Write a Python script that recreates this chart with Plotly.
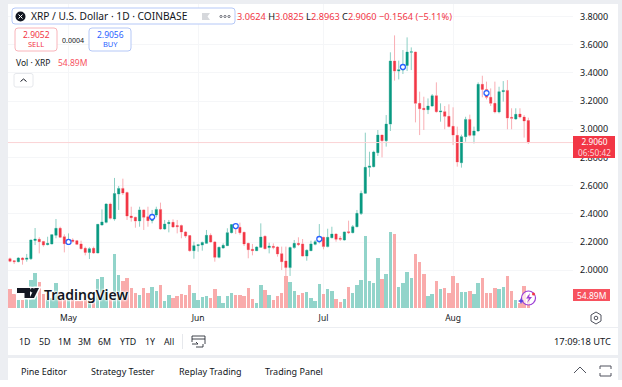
import pandas as pd
import plotly.graph_objects as go

W, H = 622, 387
START_DATE = "2025-04-17"
OPEN = [2.082,2.068,2.061,2.087,2.078,2.082,2.212,2.220,2.205,2.182,2.187,2.248,2.298,2.238,2.191,2.215,2.210,2.187,2.156,2.127,2.156,2.123,2.321,2.340,2.470,2.364,2.541,2.581,2.551,2.385,2.376,2.350,2.428,2.380,2.352,2.392,2.432,2.293,2.331,2.340,2.317,2.317,2.272,2.246,2.139,2.175,
        2.179,2.191,2.248,2.201,2.092,2.158,2.175,2.267,2.324,2.305,2.269,2.191,2.149,2.139,2.163,2.241,2.161,2.170,2.165,2.118,2.066,2.019,2.161,2.191,2.187,2.101,2.139,2.184,2.201,2.234,2.168,2.231,2.257,2.227,2.215,2.274,2.267,2.309,2.402,2.546,2.730,2.735,
        2.834,2.959,2.919,3.037,3.484,3.413,3.420,3.453,3.546,3.548,3.184,3.149,3.139,3.165,3.238,3.123,3.125,3.092,3.021,2.957,2.763,2.948,3.070,2.957,2.988,3.319,3.283,3.227,3.184,3.123,3.267,3.276,3.085,3.073,3.108,3.087,3.0624]
HIGH = [2.090,2.073,2.094,2.094,2.116,2.215,2.300,2.234,2.208,2.238,2.255,2.364,2.309,2.255,2.262,2.227,2.215,2.210,2.168,2.163,2.168,2.328,2.432,2.475,2.480,2.655,2.598,2.650,2.558,2.451,2.380,2.451,2.432,2.451,2.428,2.451,2.480,2.357,2.357,2.361,2.357,2.324,2.279,2.250,2.203,2.187,
        2.203,2.286,2.262,2.208,2.168,2.191,2.298,2.328,2.333,2.338,2.274,2.196,2.187,2.170,2.333,2.248,2.196,2.191,2.172,2.168,2.168,2.168,2.215,2.234,2.222,2.149,2.210,2.215,2.328,2.238,2.295,2.309,2.262,2.243,2.274,2.352,2.321,2.428,2.565,2.976,2.841,2.848,
        2.995,2.961,3.101,3.546,3.666,3.487,3.562,3.652,3.581,3.550,3.267,3.231,3.219,3.250,3.333,3.184,3.165,3.177,3.156,3.019,2.962,3.089,3.104,3.019,3.333,3.380,3.338,3.290,3.338,3.302,3.342,3.349,3.149,3.149,3.149,3.101,3.0825]
LOW = [2.057,2.045,2.057,2.040,2.061,2.073,2.179,2.120,2.168,2.177,2.184,2.227,2.229,2.127,2.179,2.196,2.179,2.149,2.106,2.080,2.116,2.121,2.319,2.333,2.361,2.352,2.428,2.534,2.357,2.345,2.302,2.309,2.286,2.309,2.333,2.376,2.286,2.286,2.269,2.302,2.262,2.227,2.231,2.132,2.082,2.132,
       2.139,2.189,2.196,2.061,2.085,2.153,2.172,2.262,2.257,2.253,2.172,2.085,2.106,2.139,2.161,2.149,2.120,2.149,2.097,2.002,1.955,1.960,2.153,2.172,2.097,2.068,2.137,2.177,2.191,2.149,2.163,2.227,2.203,2.208,2.210,2.257,2.262,2.305,2.392,2.541,2.664,2.730,
       2.811,2.801,2.877,2.988,3.345,3.354,3.392,3.413,3.420,3.049,2.959,2.995,3.108,3.160,3.118,3.054,3.000,3.014,2.888,2.735,2.728,2.912,2.948,2.900,2.983,3.227,3.212,3.165,3.113,3.113,3.196,3.000,3.000,3.068,3.078,2.941,2.8963]
CLOSE = [2.064,2.061,2.087,2.075,2.087,2.215,2.222,2.203,2.179,2.191,2.253,2.298,2.234,2.189,2.215,2.205,2.184,2.153,2.127,2.153,2.123,2.326,2.343,2.470,2.369,2.544,2.581,2.548,2.385,2.373,2.350,2.428,2.376,2.352,2.392,2.432,2.293,2.328,2.340,2.307,2.309,2.272,2.243,2.139,2.175,2.182,
         2.198,2.248,2.201,2.092,2.163,2.177,2.267,2.324,2.295,2.267,2.187,2.146,2.139,2.165,2.236,2.153,2.172,2.161,2.116,2.061,2.019,2.161,2.191,2.182,2.101,2.142,2.187,2.203,2.220,2.168,2.234,2.257,2.220,2.220,2.272,2.267,2.309,2.404,2.546,2.730,2.740,2.839,
         2.959,2.919,3.037,3.484,3.413,3.423,3.456,3.548,3.550,3.184,3.146,3.139,3.165,3.238,3.125,3.130,3.092,3.019,2.959,2.768,2.948,3.070,2.957,2.988,3.319,3.283,3.227,3.184,3.123,3.267,3.276,3.080,3.078,3.106,3.087,3.059,2.906]
VOLUME_M = [82,60,32,35,42,117,148,108,60,35,42,106,63,35,35,35,28,31,35,42,49,124,131,77,49,228,141,113,127,84,63,56,84,63,89,70,98,31,53,42,49,60,56,98,63,35,
            46,51,42,82,51,21,49,65,55,56,52,86,38,23,98,75,53,32,51,62,135,110,73,53,62,68,44,28,100,59,82,72,37,24,38,87,63,96,117,305,115,104,
            211,121,142,319,311,87,104,152,125,227,193,142,51,58,114,80,84,65,135,104,68,69,73,59,106,128,63,62,83,79,87,134,73,35,20,94,54.89]
EVENT_INDEX = [14, 34, 54, 74, 94, 114]
EVENT_PRICE = [2.201, 2.378, 2.314, 2.222, 3.442, 3.257]
PRICE_TICKS = [2.0, 2.2, 2.4, 2.6, 2.8, 3.0, 3.2, 3.4, 3.6, 3.8]
MONTH_DATES = ["2025-05-01", "2025-06-01", "2025-07-01", "2025-08-01"]
MONTH_LABELS = ["May", "Jun", "Jul", "Aug"]
RANGES = ["1D", "5D", "1M", "3M", "6M", "YTD", "1Y", "All"]
TABS = ["Pine Editor", "Strategy Tester", "Replay Trading", "Trading Panel"]

GREEN, RED = "#089981", "#f23645"
WICK_G, WICK_R = "#8ccfc4", "#f9aeb4"
VOL_G, VOL_R = "#92d4ca", "#f9abab"
FRAME = "#eceef2"
GRID = "#f5f6f8"
FONT = "Noto Sans"
INK = "#131722"

dates = pd.date_range(START_DATE, periods=len(CLOSE))
day = lambda n: pd.Timestamp(START_DATE) + pd.Timedelta(days=n)
PL, PR, PT, PB = 8, 573, 4, 308   # plot area in pixels

fx = lambda x: x / W
fy = lambda y: 1 - y / H

fig = go.Figure()
fig.add_bar(x=dates, y=VOLUME_M, yaxis="y2", width=0.82 * 86400000,
            marker=dict(color=[VOL_G if c >= o else VOL_R for o, c in zip(OPEN, CLOSE)], line_width=0))
fig.add_candlestick(x=dates, open=OPEN, high=HIGH, low=LOW, close=CLOSE, whiskerwidth=0,
                    increasing=dict(line=dict(color=WICK_G, width=1), fillcolor=WICK_G),
                    decreasing=dict(line=dict(color=WICK_R, width=1), fillcolor=WICK_R))
top = [max(o, c) for o, c in zip(OPEN, CLOSE)]
bot = [min(o, c) for o, c in zip(OPEN, CLOSE)]
fig.add_candlestick(x=dates, open=OPEN, high=top, low=bot, close=CLOSE, whiskerwidth=0,
                    increasing=dict(line=dict(color=GREEN, width=0), fillcolor=GREEN),
                    decreasing=dict(line=dict(color=RED, width=0), fillcolor=RED))
fig.add_scatter(x=[dates[i] for i in EVENT_INDEX], y=EVENT_PRICE, mode="markers",
                marker=dict(size=5, color="white", line=dict(color="#2962ff", width=1.3)))

shapes, ann = [], []

def rect(x0, y0, x1, y1, fill=None, line=None, lw=1):
    shapes.append(dict(type="rect", xref="paper", yref="paper", x0=fx(x0), x1=fx(x1), y0=fy(y0), y1=fy(y1),
                       fillcolor=fill or "rgba(0,0,0,0)", line=dict(color=line or "rgba(0,0,0,0)", width=lw if line else 0), layer="above"))

def rrect(x0, y0, x1, y1, r, fill=None, line=None, lw=1):
    p = (f"M{fx(x0+r)},{fy(y0)} L{fx(x1-r)},{fy(y0)} Q{fx(x1)},{fy(y0)} {fx(x1)},{fy(y0+r)} "
         f"L{fx(x1)},{fy(y1-r)} Q{fx(x1)},{fy(y1)} {fx(x1-r)},{fy(y1)} L{fx(x0+r)},{fy(y1)} "
         f"Q{fx(x0)},{fy(y1)} {fx(x0)},{fy(y1-r)} L{fx(x0)},{fy(y0+r)} Q{fx(x0)},{fy(y0)} {fx(x0+r)},{fy(y0)} Z")
    shapes.append(dict(type="path", xref="paper", yref="paper", path=p, fillcolor=fill or "rgba(0,0,0,0)",
                       line=dict(color=line or "rgba(0,0,0,0)", width=lw if line else 0), layer="above"))

def poly(points, fill=None, line=None, lw=1, close=True):
    p = "M" + " L".join(f"{fx(x)},{fy(y)}" for x, y in points) + (" Z" if close else "")
    shapes.append(dict(type="path", xref="paper", yref="paper", path=p, fillcolor=fill or "rgba(0,0,0,0)",
                       line=dict(color=line or "rgba(0,0,0,0)", width=lw if line else 0), layer="above"))

def circle(cx, cy, r, fill=None, line=None, lw=1):
    shapes.append(dict(type="circle", xref="paper", yref="paper", x0=fx(cx-r), x1=fx(cx+r), y0=fy(cy-r), y1=fy(cy+r),
                       fillcolor=fill or "rgba(0,0,0,0)", line=dict(color=line or "rgba(0,0,0,0)", width=lw if line else 0), layer="above"))

def text(x, y, s, size=9, color=INK, anchor="center", family=FONT, **font):
    ann.append(dict(xref="paper", yref="paper", x=fx(x), y=fy(y), text=s, showarrow=False, xanchor=anchor, yanchor="middle",
                    font=dict(size=size, color=color, family=family, **font), borderpad=0))

# page frame
rect(0, 0, W, 4, FRAME); rect(0, 0, 8, 380, FRAME); rect(618, 0, W, 380, FRAME)
rect(8, 355, 618, 358, FRAME); rect(8, 327, 618, 328, FRAME)

# last-price line
shapes.append(dict(type="line", xref="paper", yref="y", x0=fx(PL), x1=fx(PR), y0=CLOSE[-1], y1=CLOSE[-1],
                   line=dict(color="#fbd3d6", width=1), layer="above"))

# legend header
rrect(12, 8, 235, 24, 3, "white", "#b5c8f7", 1)
circle(20.5, 16.5, 5, "#131722")
poly([(18.5, 14.5), (22.5, 18.5)], None, "white", 1, close=False)
poly([(22.5, 14.5), (18.5, 18.5)], None, "white", 1, close=False)
text(30, 16.5, "XRP / U.S. Dollar · 1D · COINBASE", 10.2, anchor="left")
poly([(202, 13), (210, 13), (207.5, 16.5), (210, 20), (202, 20)], "#d6d8dc")
for cx in (221, 225, 229):
    circle(cx, 16.5, 1.1, None, "#50535e", 0.8)
ann.append(dict(xref="paper", yref="paper", x=fx(236), y=fy(16.5), xanchor="left", yanchor="middle", showarrow=False, borderpad=0,
                font=dict(size=9.2, family=FONT, color=RED),
                text=f"3.0624 <span style='color:{INK}'>H</span>3.0825 <span style='color:{INK}'>L</span>2.8963 "
                     f"<span style='color:{INK}'>C</span>2.9060 −0.1564 (−5.11%)"))
rrect(15, 28, 57, 51, 3, "white", "#f9b4ba", 1)
text(36, 34.5, "2.9052", 8.5, RED); text(36, 44, "SELL", 7.5, RED)
text(72.5, 40, "0.0004", 7, INK)
rrect(89, 28, 131, 51, 3, "white", "#b5c8f7", 1)
text(110, 34.5, "2.9056", 8.5, "#2962ff"); text(110, 44, "BUY", 7.5, "#2962ff")
text(15, 62.5, "Vol · XRP", 8.5, anchor="left")
text(57, 62.5, "54.89M", 8.5, "#f7525f", anchor="left")
rrect(14, 73.5, 33, 87, 2, "white", "#e6e8ec", 1)
poly([(20.5, 81.5), (23.5, 79), (26.5, 81.5)], None, INK, 1, close=False)

# price labels
rect(573, 136, 615, 158, "#f23645")
ann.append(dict(xref="paper", yref="paper", x=fx(594), y=fy(147), showarrow=False, xanchor="center", yanchor="middle", borderpad=0,
                text="2.9060<br><span style='color:#fbd5d8'>06:50:42</span>", font=dict(size=8.3, color="white", family=FONT)))
rect(573, 289, 610, 301, "#f7525f")
text(591.5, 295, "54.89M", 8.5, "white")

# TradingView mark, with its white halo
T_MARK = [(17, 288), (30, 288), (30, 298), (24.5, 298), (24.5, 293), (17, 293)]
SLASH = [(29.5, 298), (34.5, 288), (39, 288), (34, 298)]
poly(T_MARK, "white", "white", 3)
circle(32.5, 290.3, 3.5, "white")
poly(SLASH, "white", "white", 3)
poly(T_MARK, "#131722")
circle(32.3, 290.3, 2.3, "#131722")
poly(SLASH, "#131722")
text(43, 294.5, "TradingView", 14, "#131722", anchor="left", weight=600,
     shadow="0 0 2px white, 0 0 2px white, 0 0 3px white, 0 0 3px white")

# assistant icon
circle(528.5, 298, 7, "rgba(255,255,255,0.7)", "#9c3fd6", 1.2)
poly([(530, 293), (526, 298.5), (529, 298.5), (527, 303), (532, 297), (529, 297)], "#9c3fd6")
circle(533.5, 294, 1.5, "#f23645")
poly([(521, 298), (522, 300), (524, 301), (522, 302), (521, 304), (520, 302), (518, 301), (520, 300)], "#5b3fe0")

# settings hexagon
poly([(596, 312), (601, 315), (601, 321), (596, 324), (591, 321), (591, 315)], None, "#50535e", 1)
circle(596, 318, 1.8, None, "#50535e", 1)

# bottom toolbars
for s, cx in zip(RANGES, (24, 44, 64, 84, 104, 128, 150, 169)):
    text(cx, 341.5, s, 8.8)
rect(182, 334, 183, 349, "#e6e8ec")
poly([(203, 344), (203, 347), (196, 347)], None, INK, 0.8, close=False)
rect(192, 336, 205, 339, None, INK, 0.8)
poly([(205, 339), (205, 344)], None, INK, 0.8, close=False)
poly([(192, 339), (192, 342)], None, INK, 0.8, close=False)
poly([(192, 344), (198, 344), (196, 342)], None, INK, 0.8, close=False)
text(582, 341.5, "17:09:18 UTC", 9.3, INK)
for s, cx in zip(TABS, (44, 123, 210, 294)):
    text(cx, 371, s, 9)
poly([(574, 373), (580, 367), (586, 373)], None, "#50535e", 1, close=False)
poly([(600, 369), (600, 366), (611, 366), (611, 369)], None, "#50535e", 1, close=False)
poly([(600, 373), (600, 376), (611, 376), (611, 373)], None, "#50535e", 1, close=False)

price_per_px = 1 / 141
vol_per_px = 4.22
fig.update_layout(
    width=W, height=H, margin=dict(l=0, r=0, t=0, b=0), autosize=False, showlegend=False,
    paper_bgcolor="white", plot_bgcolor="white", shapes=shapes, annotations=ann, bargap=0, boxgap=0.4, boxgroupgap=0.1,
    xaxis=dict(domain=[fx(PL), fx(PR)], type="date", rangeslider_visible=False,
               range=[day((PL - 10) / 4.18), day((PR - 10) / 4.18)],
               tickmode="array", tickvals=MONTH_DATES, ticktext=MONTH_LABELS, showgrid=True, gridcolor=GRID,
               gridwidth=1, ticks="", showline=False, zeroline=False, ticklabelstandoff=3,
               tickfont=dict(family=FONT, size=8.5, color=INK)),
    yaxis=dict(domain=[fy(PB), fy(PT)], side="right", anchor="x",
               range=[3.8 - (PB - 16.5) * price_per_px, 3.8 + (16.5 - PT) * price_per_px],
               tickmode="array", tickvals=PRICE_TICKS, tickformat=".4f", showgrid=True, gridcolor=GRID, gridwidth=1,
               ticks="", showline=False, zeroline=False, ticklabelstandoff=6,
               tickfont=dict(family=FONT, size=9, color=INK)),
    yaxis2=dict(domain=[fy(PB), fy(PT)], overlaying="y", side="left", range=[0, (PB - PT) * vol_per_px],
                showgrid=False, showticklabels=False, zeroline=False, showline=False),
)
fig.write_html("out.html", config=dict(displayModeBar=False),
               post_script="document.body.style.margin='0';document.documentElement.style.overflow='hidden';")
